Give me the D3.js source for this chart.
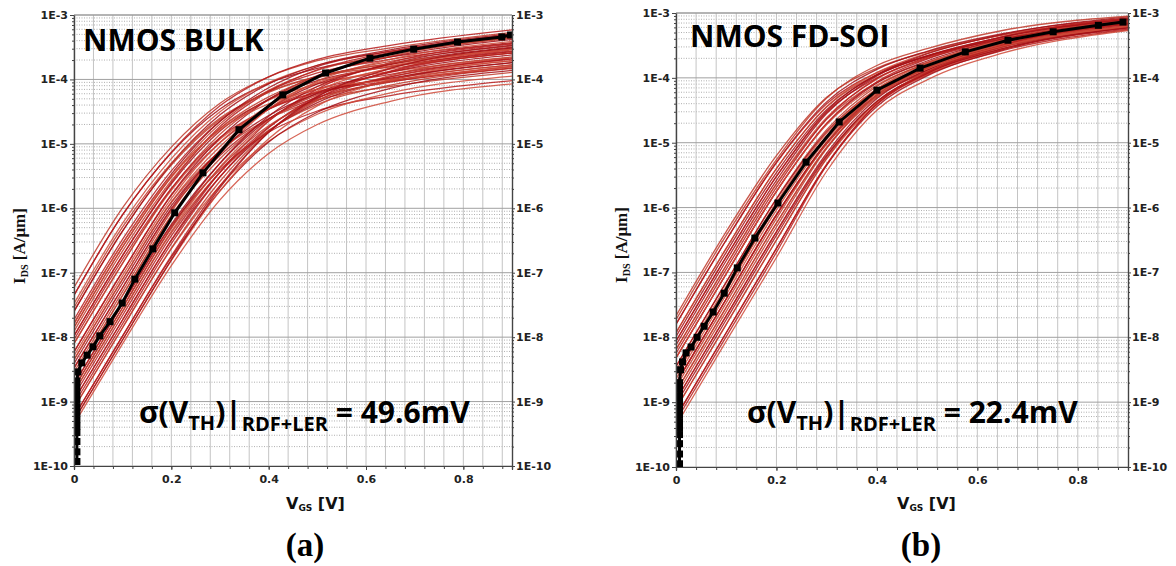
<!DOCTYPE html>
<html><head><meta charset="utf-8">
<script src="https://cdn.jsdelivr.net/npm/d3@7"></script>
<style>body{margin:0;background:#fff}svg{display:block}</style>
</head><body>
<svg id="c" width="1176" height="566"></svg>
<script>
// ---------- data ----------
const yTickValues = [1e-3,1e-4,1e-5,1e-6,1e-7,1e-8,1e-9,1e-10];
const yTickLabels = ["1E-3","1E-4","1E-5","1E-6","1E-7","1E-8","1E-9","1E-10"];
const yMinorMult = [2,3,4,5,6,7,8,9];
const yDecades = [1e-10,1e-9,1e-8,1e-7,1e-6,1e-5,1e-4];
const xTickValues = [0,0.2,0.4,0.6,0.8];
const xTickLabels = ["0","0.2","0.4","0.6","0.8"];
const xGridValues = [0,0.04,0.08,0.12,0.16,0.2,0.24,0.28,0.32,0.36,0.4,0.44,0.48,0.52,0.56,0.6,0.64,0.68,0.72,0.76,0.8,0.84,0.88];

// V_GS sample points of the red (variability) curves
const redVgs = [0, 0.1, 0.2, 0.3, 0.4, 0.5, 0.65, 0.9];
// log10(I_DS) of each red curve, bulk
const bulkRed = [
 [-7.23,-5.99,-5.05,-4.37,-3.96,-3.71,-3.51,-3.27],
 [-7.35,-6.10,-5.14,-4.46,-4.06,-3.83,-3.65,-3.43],
 [-7.35,-6.10,-5.13,-4.41,-3.96,-3.69,-3.47,-3.23],
 [-7.48,-6.23,-5.23,-4.50,-4.05,-3.78,-3.57,-3.34],
 [-7.60,-6.35,-5.33,-4.62,-4.19,-3.95,-3.76,-3.54],
 [-7.60,-6.35,-5.31,-4.55,-4.07,-3.78,-3.54,-3.29],
 [-7.73,-6.48,-5.42,-4.65,-4.18,-3.90,-3.69,-3.45],
 [-7.85,-6.60,-5.52,-4.76,-4.32,-4.07,-3.88,-3.66],
 [-7.85,-6.60,-5.51,-4.69,-4.17,-3.86,-3.61,-3.36],
 [-7.98,-6.73,-5.62,-4.80,-4.31,-4.02,-3.80,-3.57],
 [-7.98,-6.73,-5.60,-4.73,-4.19,-3.85,-3.58,-3.32],
 [-8.10,-6.85,-5.72,-4.93,-4.46,-4.19,-3.99,-3.78],
 [-8.10,-6.85,-5.70,-4.85,-4.31,-3.98,-3.72,-3.48],
 [-8.23,-6.98,-5.79,-4.91,-4.31,-3.94,-3.65,-3.38],
 [-8.23,-6.98,-5.80,-4.98,-4.46,-4.15,-3.92,-3.68],
 [-8.35,-7.10,-5.90,-5.04,-4.46,-4.11,-3.84,-3.59],
 [-8.35,-7.10,-5.91,-5.11,-4.61,-4.32,-4.11,-3.89],
 [-8.48,-7.23,-6.00,-5.10,-4.46,-4.07,-3.77,-3.50],
 [-8.48,-7.23,-6.02,-5.18,-4.61,-4.28,-4.04,-3.80],
 [-8.60,-7.35,-6.11,-5.16,-4.46,-4.03,-3.69,-3.41],
 [-8.60,-7.35,-6.12,-5.23,-4.61,-4.24,-3.96,-3.71],
 [-8.73,-7.48,-6.25,-5.30,-4.62,-4.21,-3.89,-3.62],
 [-8.73,-7.48,-6.27,-5.40,-4.82,-4.49,-4.25,-4.02],
 [-8.85,-7.60,-6.36,-5.36,-4.64,-4.18,-3.82,-3.53],
 [-8.85,-7.60,-6.38,-5.44,-4.79,-4.39,-4.09,-3.83],
 [-8.98,-7.73,-6.50,-5.51,-4.80,-4.36,-4.01,-3.74],
 [-8.98,-7.73,-6.49,-5.44,-4.65,-4.15,-3.74,-3.44],
 [-9.10,-7.85,-6.63,-5.65,-4.96,-4.54,-4.21,-3.95],
 [-9.10,-7.85,-6.62,-5.58,-4.81,-4.33,-3.94,-3.65],
 [-9.23,-7.98,-6.76,-5.73,-4.97,-4.51,-4.14,-3.86],
 [-9.23,-7.98,-6.74,-5.65,-4.82,-4.30,-3.87,-3.56],
 [-9.35,-8.10,-6.89,-5.87,-5.15,-4.70,-4.34,-4.07],
 [-7.54,-6.29,-5.30,-4.60,-4.20,-3.96,-3.80,-3.59],
 [-7.79,-6.54,-5.47,-4.65,-4.13,-3.80,-3.56,-3.30],
 [-8.04,-6.79,-5.69,-4.90,-4.46,-4.20,-4.03,-3.82],
 [-8.29,-7.04,-5.85,-4.98,-4.41,-4.05,-3.79,-3.53],
 [-8.54,-7.29,-6.05,-5.10,-4.41,-3.97,-3.64,-3.35],
 [-8.79,-7.54,-6.30,-5.30,-4.57,-4.11,-3.76,-3.47],
 [-9.04,-7.79,-6.55,-5.51,-4.75,-4.26,-3.88,-3.59],
 [-9.29,-8.04,-6.81,-5.73,-4.92,-4.41,-4.01,-3.71],
 [-7.91,-6.66,-5.57,-4.76,-4.27,-3.97,-3.75,-3.51],
 [-8.41,-7.16,-5.96,-5.11,-4.56,-4.22,-3.98,-3.74],
 [-8.91,-7.66,-6.43,-5.44,-4.74,-4.29,-3.96,-3.68],
 [-7.79,-6.54,-5.50,-4.78,-4.38,-4.15,-4.01,-3.80],
 [-8.79,-7.54,-6.31,-5.37,-4.72,-4.32,-4.03,-3.77],
 [-9.29,-8.04,-6.80,-5.68,-4.82,-4.27,-3.83,-3.51]
];
// log10(I_DS) of each red curve, FD-SOI
const soiRed = [
 [-7.67,-6.37,-5.20,-4.30,-3.85,-3.60,-3.34,-3.12],
 [-7.80,-6.50,-5.30,-4.37,-3.87,-3.59,-3.32,-3.08],
 [-7.80,-6.50,-5.31,-4.40,-3.92,-3.66,-3.41,-3.18],
 [-7.93,-6.63,-5.40,-4.44,-3.92,-3.62,-3.34,-3.09],
 [-7.93,-6.63,-5.40,-4.45,-3.95,-3.66,-3.39,-3.14],
 [-8.06,-6.76,-5.52,-4.51,-3.95,-3.63,-3.33,-3.06],
 [-8.06,-6.76,-5.52,-4.53,-4.00,-3.70,-3.42,-3.15],
 [-8.19,-6.89,-5.63,-4.61,-4.02,-3.69,-3.39,-3.11],
 [-8.19,-6.89,-5.64,-4.64,-4.07,-3.76,-3.48,-3.21],
 [-8.32,-7.02,-5.75,-4.71,-4.08,-3.74,-3.41,-3.12],
 [-8.32,-7.02,-5.75,-4.70,-4.06,-3.71,-3.37,-3.08],
 [-8.32,-7.02,-5.75,-4.72,-4.11,-3.78,-3.46,-3.17],
 [-8.45,-7.15,-5.86,-4.80,-4.13,-3.77,-3.43,-3.13],
 [-8.45,-7.15,-5.87,-4.83,-4.18,-3.84,-3.52,-3.23],
 [-8.58,-7.28,-5.98,-4.91,-4.22,-3.85,-3.50,-3.19],
 [-8.58,-7.28,-5.98,-4.89,-4.17,-3.78,-3.41,-3.10],
 [-8.71,-7.41,-6.11,-4.99,-4.23,-3.84,-3.46,-3.15],
 [-8.71,-7.41,-6.11,-5.00,-4.26,-3.88,-3.51,-3.20],
 [-8.71,-7.41,-6.12,-5.02,-4.28,-3.91,-3.55,-3.25],
 [-8.84,-7.54,-6.24,-5.07,-4.27,-3.86,-3.48,-3.16],
 [-8.84,-7.54,-6.24,-5.08,-4.30,-3.90,-3.53,-3.21],
 [-8.97,-7.67,-6.37,-5.16,-4.32,-3.88,-3.49,-3.16],
 [-8.97,-7.67,-6.38,-5.19,-4.37,-3.95,-3.58,-3.26],
 [-9.10,-7.80,-6.50,-5.25,-4.40,-3.95,-3.56,-3.21],
 [-9.10,-7.80,-6.50,-5.24,-4.37,-3.91,-3.51,-3.16],
 [-9.23,-7.93,-6.63,-5.34,-4.44,-3.97,-3.57,-3.22],
 [-9.23,-7.93,-6.63,-5.33,-4.41,-3.93,-3.52,-3.17],
 [-9.36,-8.06,-6.77,-5.44,-4.50,-4.03,-3.62,-3.27],
 [-7.73,-6.43,-5.26,-4.31,-3.81,-3.55,-3.27,-3.05],
 [-7.99,-6.69,-5.46,-4.49,-3.96,-3.67,-3.40,-3.16],
 [-8.25,-6.95,-5.69,-4.63,-4.01,-3.68,-3.37,-3.09],
 [-8.51,-7.21,-5.92,-4.85,-4.17,-3.82,-3.49,-3.20],
 [-8.77,-7.47,-6.17,-5.01,-4.22,-3.83,-3.44,-3.13],
 [-9.03,-7.73,-6.43,-5.21,-4.36,-3.93,-3.55,-3.23],
 [-9.29,-7.99,-6.69,-5.35,-4.40,-3.92,-3.50,-3.15],
 [-8.64,-7.34,-6.04,-4.95,-4.23,-3.86,-3.51,-3.21],
 [-8.90,-7.60,-6.30,-5.09,-4.26,-3.85,-3.46,-3.14],
 [-8.12,-6.82,-5.58,-4.55,-3.97,-3.66,-3.37,-3.10]
];
// black reference curves with square markers
const bulkMeanVgs = [0.006,0.006,0.006,0.006,0.006,0.006,0.006,0.006,0.006,0.006,0.006,0.006,0.008,0.016,0.027,0.039,0.053,0.074,0.099,0.125,0.162,0.207,0.265,0.339,0.429,0.517,0.608,0.698,0.788,0.879,0.897];
const bulkMeanLog = [-9.93,-9.78,-9.62,-9.48,-9.38,-9.28,-9.18,-9.08,-8.98,-8.88,-8.78,-8.68,-8.54,-8.40,-8.28,-8.15,-7.98,-7.76,-7.47,-7.10,-6.63,-6.07,-5.45,-4.78,-4.24,-3.90,-3.67,-3.53,-3.42,-3.34,-3.31];
const soiMeanVgs = [0.007,0.007,0.007,0.007,0.007,0.007,0.007,0.007,0.007,0.007,0.007,0.007,0.009,0.013,0.020,0.030,0.042,0.056,0.074,0.096,0.122,0.157,0.203,0.259,0.325,0.400,0.486,0.576,0.661,0.751,0.841,0.890];
const soiMeanLog = [-9.95,-9.80,-9.64,-9.50,-9.40,-9.30,-9.20,-9.10,-9.00,-8.90,-8.80,-8.70,-8.50,-8.38,-8.24,-8.15,-8.00,-7.83,-7.61,-7.32,-6.93,-6.47,-5.93,-5.30,-4.68,-4.19,-3.85,-3.60,-3.42,-3.29,-3.19,-3.14];

const panelTitles = ["NMOS BULK","NMOS FD-SOI"];
const sigmaValues = ["49.6mV","22.4mV"];
const panelLabels = ["(a)","(b)"];

// ---------- layout ----------
const panels = [
 {x0:74, x1:512, y0:15, y1:466, red:bulkRed, mv:bulkMeanVgs, ml:bulkMeanLog, tx:83, ty:51, sx:139, sy:423, ytx:25, ytY:246, xtx:286, lx:305},
 {x0:676,x1:1128,y0:13, y1:467, red:soiRed, mv:soiMeanVgs, ml:soiMeanLog, tx:690, ty:47, sx:747, sy:423, ytx:627, ytY:245, xtx:897, lx:921}
];

const svg = d3.select("#c");
svg.append("rect").attr("width",1176).attr("height",566).attr("fill","#fff");
const tickFont = "'DejaVu Sans', Arial, sans-serif";
const redColors = ["#c0392b","#a50f15","#b71c1c","#d04a3a"];

panels.forEach((p, pi) => {
  const x = d3.scaleLinear().domain([0,0.9]).range([p.x0,p.x1]);
  const y = d3.scaleLog().domain([1e-10,1e-3]).range([p.y1,p.y0]);
  const g = svg.append("g");

  // grid
  const minor = [];
  yDecades.forEach(d => yMinorMult.forEach(m => minor.push(d*m)));
  g.append("g").selectAll("line").data(minor).join("line")
    .attr("x1",p.x0).attr("x2",p.x1).attr("y1",d=>y(d)).attr("y2",d=>y(d))
    .attr("stroke","#9a9a9a").attr("stroke-width",0.8).attr("stroke-dasharray","1,1.5");
  g.append("g").selectAll("line").data(xGridValues).join("line")
    .attr("x1",d=>x(d)).attr("x2",d=>x(d)).attr("y1",p.y0).attr("y2",p.y1)
    .attr("stroke","#c4c4c4").attr("stroke-width",1);
  g.append("g").selectAll("line").data(yTickValues).join("line")
    .attr("x1",p.x0).attr("x2",p.x1).attr("y1",d=>y(d)).attr("y2",d=>y(d))
    .attr("stroke","#a0a0a0").attr("stroke-width",1);

  // clip
  const cid = "clip"+pi;
  svg.append("clipPath").attr("id",cid).append("rect")
    .attr("x",p.x0).attr("y",p.y0).attr("width",p.x1-p.x0).attr("height",p.y1-p.y0+2);
  const plot = g.append("g").attr("clip-path",`url(#${cid})`);

  // red curves
  const redLine = d3.line().x((d,i)=>x(redVgs[i])).y(d=>y(Math.pow(10,d))).curve(d3.curveMonotoneX);
  plot.append("g").selectAll("path").data(p.red).join("path")
    .attr("d",redLine).attr("fill","none")
    .attr("stroke",(d,i)=> redColors[i%4])
    .attr("stroke-width",1.3).attr("stroke-opacity",0.85);

  // black curve
  const pts = p.mv.map((v,i)=>[v,p.ml[i]]);
  const blk = d3.line().x(d=>x(d[0])).y(d=>y(Math.pow(10,d[1])));
  plot.append("path").attr("d",blk(pts)).attr("fill","none").attr("stroke","#000").attr("stroke-width",3);
  plot.append("g").selectAll("rect").data(pts).join("rect")
    .attr("x",d=>x(d[0])-3.5).attr("y",d=>y(Math.pow(10,d[1]))-3.5)
    .attr("width",7).attr("height",7).attr("fill","#000");

  // axes
  const fmtY = (d)=> yTickLabels[yTickValues.indexOf(d)];
  g.append("g").attr("transform",`translate(${p.x0},0)`)
    .call(d3.axisLeft(y).tickValues(yTickValues).tickFormat(fmtY).tickSize(4).tickPadding(2));
  g.append("g").attr("transform",`translate(${p.x1},0)`)
    .call(d3.axisRight(y).tickValues(yTickValues).tickFormat(fmtY).tickSize(3).tickPadding(1));
  g.append("g").attr("transform",`translate(${p.x0},0)`)
    .call(d3.axisLeft(y).tickValues(minor).tickFormat("").tickSize(2));
  g.append("g").attr("transform",`translate(${p.x1},0)`)
    .call(d3.axisRight(y).tickValues(minor).tickFormat("").tickSize(2));
  g.append("g").attr("transform",`translate(0,${p.y1})`)
    .call(d3.axisBottom(x).tickValues(xTickValues).tickFormat((d,i)=>xTickLabels[i]).tickSize(4).tickPadding(5));
  g.append("g").attr("transform",`translate(0,${p.y1})`)
    .call(d3.axisBottom(x).tickValues(xGridValues).tickFormat("").tickSize(3));
  g.selectAll(".domain").attr("stroke","#444").attr("stroke-width",1.2);
  g.selectAll(".tick line").attr("stroke","#444");
  g.selectAll(".tick text").attr("font-family",tickFont).attr("font-weight","bold")
    .attr("font-size","11px").attr("fill","#222");
  g.append("line").attr("x1",p.x0).attr("x2",p.x1).attr("y1",p.y0).attr("y2",p.y0)
    .attr("stroke","#999").attr("stroke-width",1);

  // panel title
  svg.append("text").attr("x",p.tx).attr("y",p.ty)
    .attr("font-family","'Open Sans', sans-serif").attr("font-weight",700).attr("font-size","30px")
    .attr("fill","#000").text(panelTitles[pi]);

  // sigma annotation
  const st = svg.append("text").attr("x",p.sx).attr("y",p.sy)
    .attr("font-family","'Open Sans', sans-serif").attr("font-weight",700).attr("font-size","30px").attr("fill","#000");
  st.append("tspan").text("σ(V");
  st.append("tspan").attr("font-size","20px").attr("dy",7).text("TH");
  st.append("tspan").attr("dy",-7).text(")|");
  st.append("tspan").attr("font-size","20px").attr("dy",8).text("RDF+LER");
  st.append("tspan").attr("dy",-8).text(" = " + sigmaValues[pi]);

  // y axis title
  const yt = svg.append("text").attr("transform",`translate(${p.ytx},${p.ytY}) rotate(-90)`)
    .attr("text-anchor","middle").attr("font-family","'Liberation Serif', 'Times New Roman', serif")
    .attr("font-weight","bold").attr("font-size","17px").attr("fill","#111");
  yt.append("tspan").text("I");
  yt.append("tspan").attr("font-size","10px").attr("dy",3).text("DS");
  yt.append("tspan").attr("dy",-3).text(" [A/μm]");

  // x axis title
  const xt = svg.append("text").attr("x",p.xtx).attr("y",509)
    .attr("font-family",tickFont).attr("font-weight","bold").attr("font-size","16px").attr("fill","#111");
  xt.append("tspan").text("V");
  xt.append("tspan").attr("font-size","9px").attr("dy",2).text("GS");
  xt.append("tspan").attr("dy",-2).text(" [V]");

  // panel label
  svg.append("text").attr("x",p.lx).attr("y",556).attr("text-anchor","middle")
    .attr("font-family","'Liberation Serif', 'Times New Roman', serif").attr("font-weight","bold")
    .attr("font-size","33px").attr("fill","#000").text(panelLabels[pi]);
});
</script>
</body></html>
